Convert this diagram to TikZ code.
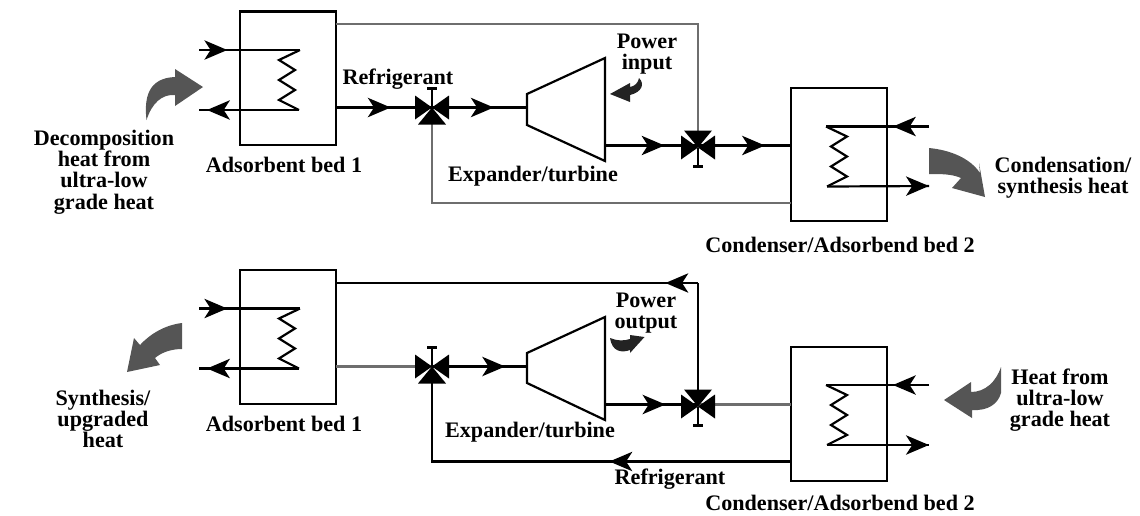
\documentclass[tikz,border=0pt]{standalone}
\usepackage{fontspec}
\setmainfont{Liberation Serif}
\usetikzlibrary{calc}
\usetikzlibrary{arrows.meta}
\usetikzlibrary{decorations.markings}
\definecolor{plant-gray1}{RGB}{110, 110, 110}
\definecolor{plant-gray2}{RGB}{85, 85, 85}
\definecolor{plant-dark}{RGB}{35, 35, 35}
\tikzset{
  tube/.style={line width=1.25pt, line join=miter},
  graytube/.style={line width=1.25pt, plant-gray1},
  flow/.style={postaction={decorate, decoration={markings,
      mark=at position #1 with {\arrow{Stealth[length=13pt, width=11pt, inset=3.5pt]}}}}},
  bed/.style={draw, line width=1.25pt, inner sep=0pt, outer sep=0pt, minimum width=1.92cm, minimum height=2.67cm},
  caption/.style={font=\fontsize{12.6}{12.1}\selectfont\bfseries, align=center, inner sep=0pt},
  valve/.pic={
    \fill (-17,-12) -- (0,0) -- (-17,12) -- cycle;
    \fill (17,-12) -- (0,0) -- (17,12) -- cycle;
    \fill (0,0) -- (-14,17) -- (14,17) -- cycle;
    \draw[tube] (0,0) -- (0,-19) (-5,-19) -- (5,-19);
  },
  coil/.pic={
    \coordinate (-top) at (0,0);
    \coordinate (-end) at (-1,60);
    \draw[tube] (-top) -- (-21,10) -- (-5,20) -- (-21,30) -- (-5,40) -- (-21,50) -- (-end);
  },
}
\begin{document}
\begin{tikzpicture}[x=0.02cm, y=-0.02cm]
  \useasboundingbox (0,0) rectangle (1140,515);

  % upper cycle
  \node[bed] (bed1) at (288,78.25) {};
  \node[bed] (bed2) at (839,154.5) {};
  \coordinate (v1) at (432,107.5);
  \coordinate (v2) at (698,145.5);
  \coordinate (turbinein) at (527,107.5);
  \coordinate (turbineout) at (605,145.5);
  \coordinate (topline) at (698,24);
  \coordinate (returnline) at (432,203);
  \coordinate (in1) at (199,50);
  \coordinate (out1) at (199,110);
  \coordinate (in2) at (929,126.5);
  \coordinate (out2) at (929,186);
  \pic (c1) at (300,50) {coil};
  \pic[xscale=-1] (c2) at (826,126.5) {coil};

  \draw[graytube] (bed1.east |- topline) -- (topline) -- (v2);
  \draw[graytube] (v1) -- (returnline) -- (bed2.west |- returnline);
  \draw[tube, flow=0.28] (in1) -- (c1-top);
  \draw[tube, flow=0.92] (c1-end) -- (out1);
  \draw[tube, flow=0.35] (in2) -- (c2-top);
  \draw[tube, flow=0.999] (c2-end) -- (out2);
  \draw[tube, flow=0.57] (bed1.east |- v1) -- (v1);
  \draw[tube, flow=0.65] (v1) -- (turbinein);
  \draw[tube, flow=0.64] (turbineout) -- (v2);
  \draw[tube, flow=0.72] (v2) -- (bed2.west |- v2);
  \draw[tube] (527,94) -- (605,58) -- (605,161) -- (527,125) -- cycle;
  \pic at (v1) {valve};
  \pic[yscale=-1] at ($(v2)+(0,2)$) {valve};

  \fill[plant-gray2] (146.5,120) .. controls (144,98) and (148,78) .. (175,77) -- (175,69) -- (203,87) -- (175,106) -- (175,95) .. controls (162,94) and (152,103) .. (146.5,120) -- cycle;
  \fill[plant-gray2] (929,148) .. controls (950,150) and (970,158) .. (980,173) -- (979,163) -- (985,197) -- (952,188) -- (961,178) .. controls (952,174) and (942,174) .. (929,174) -- cycle;
  \fill[plant-dark] (639,78) .. controls (645,84) and (642,92) .. (630,95) -- (630,102) -- (610,94) -- (630,83) -- (630,87) .. controls (635,86) and (638,83) .. (639,78) -- cycle;

  \node[caption] (decomposition) at (104,172) {Decomposition\\heat from\\ultra-low\\grade heat};
  \node[caption] (bedlabel1) at (284,165) {Adsorbent bed 1};
  \node[caption] (refrigerant1) at (398,79) {Refrigerant};
  \node[caption] (expander1) at (533,176) {Expander/turbine};
  \node[caption] (power1) at (647,54) {Power\\input};
  \node[caption] (bedlabel2) at (840,245) {Condenser/Adsorbend bed 2};
  \node[caption] (condensation) at (1063,178) {Condensation/\\synthesis heat};

  % lower cycle
  \node[bed] (bed3) at (288,337) {};
  \node[bed] (bed4) at (839,414) {};
  \coordinate (v3) at (432,366.5);
  \coordinate (v4) at (698,404.5);
  \coordinate (turbinein2) at (527,366.5);
  \coordinate (turbineout2) at (605,404.5);
  \coordinate (topline2) at (698,283);
  \coordinate (returnline2) at (432,461.5);
  \coordinate (in3) at (199,308.5);
  \coordinate (out3) at (199,368.5);
  \coordinate (in4) at (929,385);
  \coordinate (out4) at (929,445);
  \pic (c3) at (300,308.5) {coil};
  \pic[xscale=-1] (c4) at (826,385) {coil};

  \draw[tube, flow=0.09] (topline2) -- (bed3.east |- topline2);
  \draw[tube] (v4) -- (topline2);
  \draw[tube, flow=0.40] (bed4.west |- returnline2) -- (returnline2) -- (v3);
  \draw[tube, flow=0.28] (in3) -- (c3-top);
  \draw[tube, flow=0.92] (c3-end) -- (out3);
  \draw[tube, flow=0.35] (in4) -- (c4-top);
  \draw[tube, flow=0.999] (c4-end) -- (out4);
  \draw[graytube] (bed3.east |- v3) -- (v3);
  \draw[tube, flow=0.77] (v3) -- (turbinein2);
  \draw[tube, flow=0.65] (turbineout2) -- (v4);
  \draw[graytube] (v4) -- (bed4.west |- v4);
  \draw[tube] (527,353) -- (605,317) -- (605,420) -- (527,383) -- cycle;
  \pic at (v3) {valve};
  \pic[yscale=-1] at ($(v4)+(0,2)$) {valve};

  \fill[plant-gray2] (182,323) -- (182,349) .. controls (172,349) and (162,352) .. (155,358) -- (160,365) -- (127,372) -- (134,338) -- (140,345) .. controls (150,334) and (165,325) .. (182,323) -- cycle;
  \fill[plant-gray2] (1001,367) -- (1001,393) .. controls (998,404) and (988,411) .. (972,410) -- (972,418) -- (944,400) -- (971,382) -- (971,392) .. controls (985,392) and (996,382) .. (1001,367) -- cycle;
  \fill[plant-dark] (610,338) .. controls (617,341) and (624,341) .. (630,339) -- (630,335) -- (644.5,337) -- (630,353) -- (630,350) .. controls (622,353) and (612,352) .. (610,338) -- cycle;

  \node[caption] (synthesis) at (103,419) {Synthesis/\\upgraded\\heat};
  \node[caption] (bedlabel3) at (284,424) {Adsorbent bed 1};
  \node[caption] (expander2) at (530,432) {Expander/turbine};
  \node[caption] (power2) at (646,313) {Power\\output};
  \node[caption] (refrigerant2) at (670,479) {Refrigerant};
  \node[caption] (bedlabel4) at (840,503) {Condenser/Adsorbend bed 2};
  \node[caption] (heatfrom) at (1060,400) {Heat from\\ultra-low\\grade heat};
\end{tikzpicture}
\end{document}
